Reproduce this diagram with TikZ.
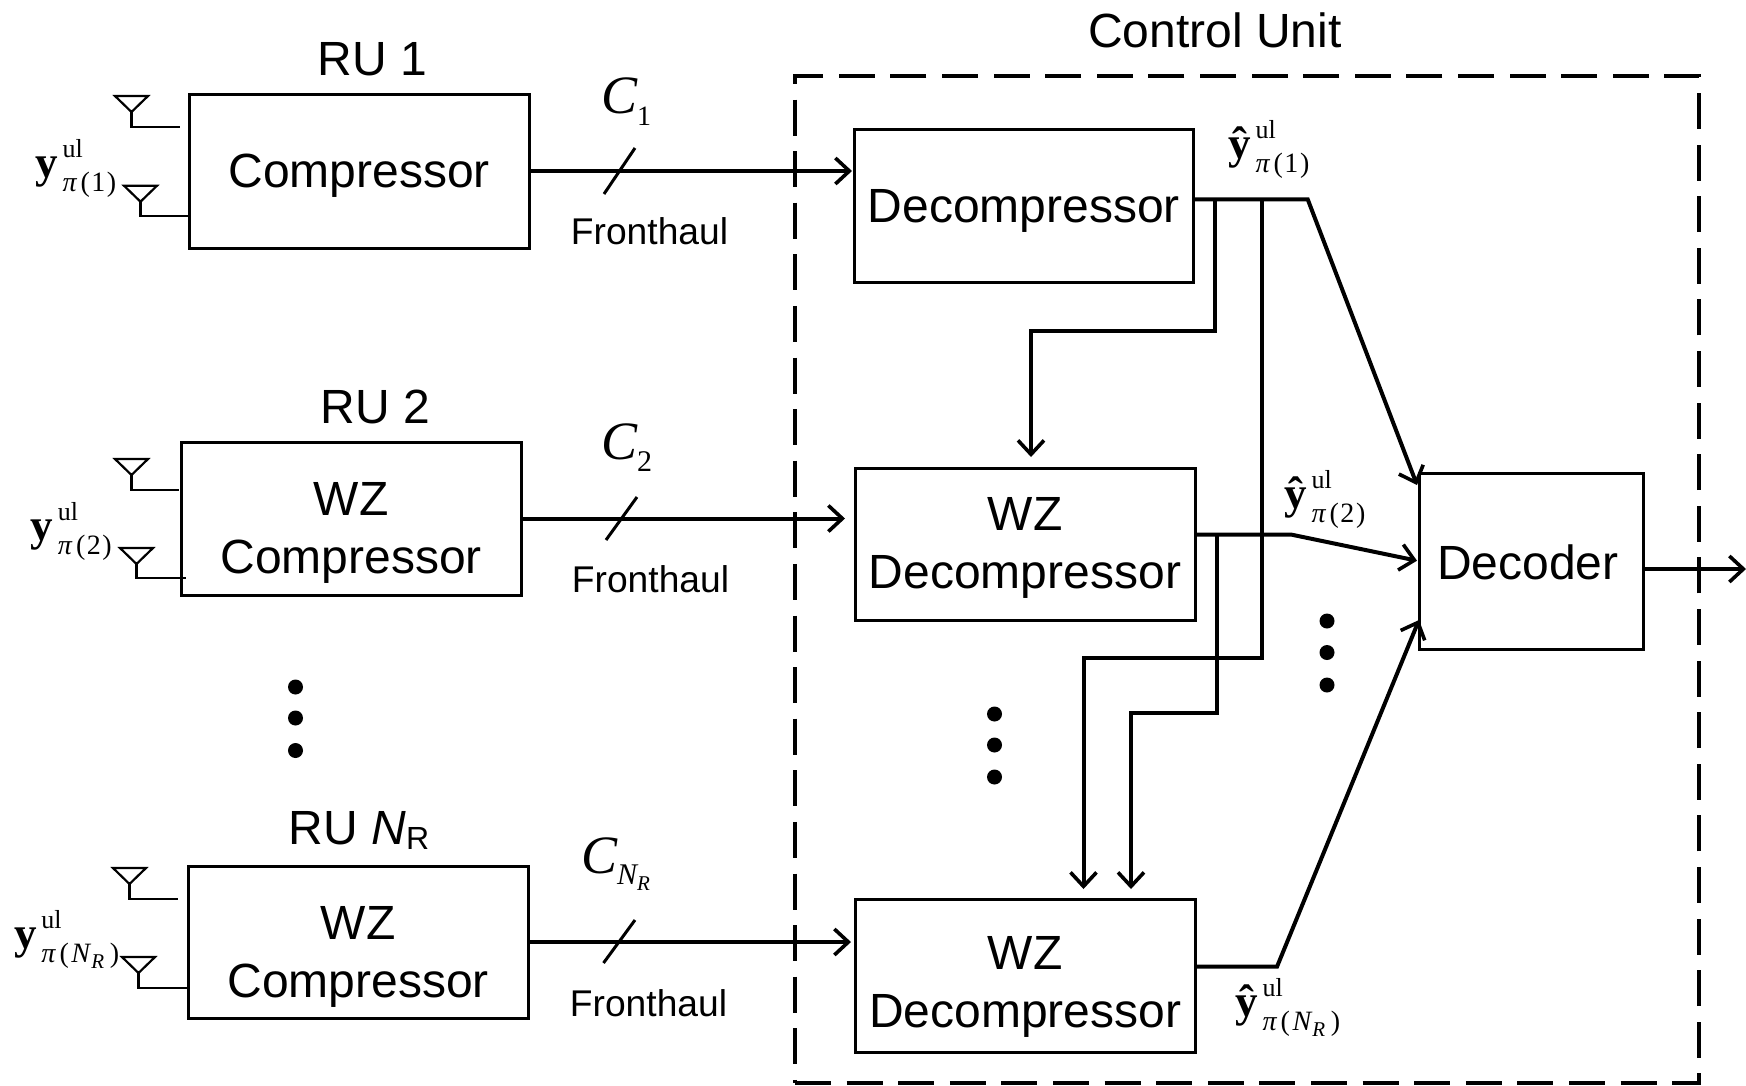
\documentclass[tikz,border=0pt]{standalone}
\usepackage{fontspec}
\setmainfont{Liberation Sans}
\newfontfamily\tnr{Liberation Serif}
\usetikzlibrary{arrows.meta,calc}
\newcommand\fsz[2]{\fontsize{#1}{#2}\selectfont}
\newcommand\dn[2]{\raisebox{-#1}[\height][\depth]{#2}}
\newcommand\ulsub[2]{{\fsz{45}{45}\bfseries #1}\kern5pt\rlap{\raisebox{20pt}{\fsz{26}{26}ul}}\raisebox{-14.5pt}{\fsz{28}{28}#2}}
\newcommand\pisub[1]{\textit{π}\kern3.5pt(\kern1.5pt#1\kern1.5pt)}
\newcommand\nr{\kern1pt\textit{N}\raisebox{-6pt}{\fsz{21}{21}\textit{R}}\kern4pt}
\newcommand\antenna[4]{%
  \draw[antline] (#1,#2) -- ++(33,0) -- ++(-16.5,16) -- cycle;
  \draw[antline] ($(#1,#2)+(16.5,16)$) |- (#3,#4);}
\tikzset{
  box/.style={draw=black,line width=3pt,rectangle,inner sep=0pt,outer sep=0pt,anchor=north west,align=center,font=\fsz{48}{58}},
  lab/.style={inner sep=0pt,outer sep=0pt,font=\fsz{48}{58}},
  fh/.style={inner sep=0pt,outer sep=0pt,font=\fsz{37.2}{44}},
  ser/.style={inner sep=0pt,outer sep=0pt,anchor=base west,font=\tnr},
  capl/.style={inner sep=0pt,outer sep=0pt,anchor=base west,font=\tnr\fsz{54}{60}\itshape},
  wire/.style={draw=black,line width=4pt,line join=miter},
  arr/.style={wire,-{Straight Barb[length=14pt,width=26pt,line width=3.6pt]}},
  antline/.style={draw=black,line width=2.2pt},
  slash/.style={draw=black,line width=3pt},
  dotn/.style={circle,fill=black,inner sep=0pt,minimum size=15pt,outer sep=0pt},
  ctrl/.style={draw=black,line width=4pt,dash pattern=on 36pt off 15.6pt,rectangle,inner sep=0pt,outer sep=0pt,anchor=north west}
}
\begin{document}
\begin{tikzpicture}[x=1pt,y=-1pt]
\useasboundingbox (0,0) rectangle (1746,1085);
% control unit
\node[ctrl,minimum width=904pt,minimum height=1006.5pt] (cu) at (795,76) {};
\node[lab] (cul) at (1215,30) {Control Unit};
% boxes
\node[box,minimum width=339.5pt,minimum height=154pt] (ru1) at (189.5,94) {\dn{4.5pt}{Compressor}};
\node[box,minimum width=339.5pt,minimum height=153pt] (ru2) at (181.5,442) {\dn{14.5pt}{WZ}\\\dn{14.5pt}{Compressor}};
\node[box,minimum width=339.5pt,minimum height=152pt] (ru3) at (188.5,866) {\dn{14.5pt}{WZ}\\\dn{14.5pt}{Compressor}};
\node[box,minimum width=339.7pt,minimum height=153pt] (dec1) at (854,129) {\dn{5pt}{Decompressor}};
\node[box,minimum width=340pt,minimum height=152pt] (dec2) at (855,468) {\dn{4pt}{WZ}\\\dn{4pt}{Decompressor}};
\node[box,minimum width=340.6pt,minimum height=153pt] (dec3) at (855,899) {\dn{11pt}{WZ}\\\dn{11pt}{Decompressor}};
\node[box,minimum width=224pt,minimum height=176pt] (decd) at (1419,473) {\dn{1pt}{Decoder}\kern6.6pt};
% RU titles
\node[lab] (t1) at (372.5,59) {RU 1};
\node[lab] (t2) at (375.5,407) {RU 2};
\node[lab] (t3) at (359,830) {RU \textit{N}\raisebox{-5pt}{\fsz{32}{32}R}};
% fronthaul labels
\node[fh] (f1) at (649.5,231.6) {Fronthaul};
\node[fh] (f2) at (650.5,579) {Fronthaul};
\node[fh] (f3) at (648.5,1003) {Fronthaul};
% capacities
\node[capl] (c1) at (601,113) {C\raisebox{-12pt}{\fsz{28}{28}\upshape 1}};
\node[capl] (c2) at (601,459) {C\raisebox{-12pt}{\fsz{30}{30}\upshape 2}};
\node[capl] (c3) at (581,873) {C\raisebox{-11pt}{\fsz{30}{30}N\raisebox{-6pt}{\fsz{21}{21}R}}};
% input arrows
\draw[arr,shorten >=2pt] (ru1.east) -- (ru1.east -| dec1.west);
\draw[arr,shorten >=10pt] (ru2.east) -- (ru2.east -| dec2.west);
\draw[arr,shorten >=4pt] (ru3.east) -- (ru3.east -| dec3.west);
% slashes
\coordinate (s1a) at (604,194); \coordinate (s1b) at (635,148);
\coordinate (s2a) at (606,540); \coordinate (s2b) at (637,497);
\coordinate (s3a) at (603.5,963); \coordinate (s3b) at (635,920);
\draw[slash] (s1a) -- (s1b);
\draw[slash] (s2a) -- (s2b);
\draw[slash] (s3a) -- (s3b);
% decompressor 1 outputs
\coordinate (o1) at (1193.7,199.3);
\coordinate (k1) at (1307.7,199.3);
\coordinate (d1) at (1417,485);
\draw[arr] (o1) -- (k1) -- (d1);
\coordinate (v1a) at (1214.6,199.3);
\coordinate (v1b) at (1214.6,331);
\coordinate (v1c) at (1031,331);
\coordinate (in2) at (1031,457);
\draw[arr] (v1a) -- (v1b) -- (v1c) -- (in2);
\coordinate (v2a) at (1261.7,199.3);
\coordinate (v2b) at (1261.7,658);
\coordinate (v2c) at (1083.5,658);
\coordinate (in3a) at (1083.5,889);
\draw[arr] (v2a) -- (v2b) -- (v2c) -- (in3a);
% WZ decompressor 2 outputs
\coordinate (o2) at (1195,534.7);
\coordinate (k2) at (1291.8,534.7);
\coordinate (d2) at (1417,560.7);
\draw[arr] (o2) -- (k2) -- (d2);
\coordinate (v3a) at (1216.5,534.7);
\coordinate (v3b) at (1216.5,712.6);
\coordinate (v3c) at (1131,712.6);
\coordinate (in3b) at (1131,889);
\draw[arr] (v3a) -- (v3b) -- (v3c) -- (in3b);
% WZ decompressor 3 output
\coordinate (o3) at (1195.6,966.7);
\coordinate (k3) at (1277,966.7);
\coordinate (d3) at (1419,620);
\draw[arr] (o3) -- (k3) -- (d3);
% decoder output
\coordinate (out) at (1746,569);
\coordinate (o4) at (1643,569);
\draw[arr] (o4) -- (out);
% antennas
\antenna{115}{96}{180}{127}
\antenna{124}{185.7}{190}{216}
\antenna{115}{459}{179}{490}
\antenna{120}{548}{186}{578}
\antenna{113}{868}{178}{899}
\antenna{122}{957}{189}{988}
% signal labels
\node[ser] (y1) at (35,177) {\ulsub{y}{\pisub{1}}};
\node[ser] (y2) at (30.5,540) {\ulsub{y}{\pisub{2}}};
\node[ser] (y3) at (14,948) {\ulsub{y}{\pisub{\nr}}};
\node[ser] (h1) at (1228,158) {\ulsub{ŷ}{\pisub{1}}};
\node[ser] (h2) at (1284,508) {\ulsub{ŷ}{\pisub{2}}};
\node[ser] (h3) at (1235,1016) {\ulsub{ŷ}{\pisub{\nr}}};
% dots
\foreach \n/\x/\y in {a/295.5/687,b/295.5/718,c/295.5/750.5,d/994.5/714,e/994.5/745,f/994.5/777,g/1327/621,h/1327/652.5,i/1327/685}
  \node[dotn] (dot\n) at (\x,\y) {};
\end{tikzpicture}
\end{document}
